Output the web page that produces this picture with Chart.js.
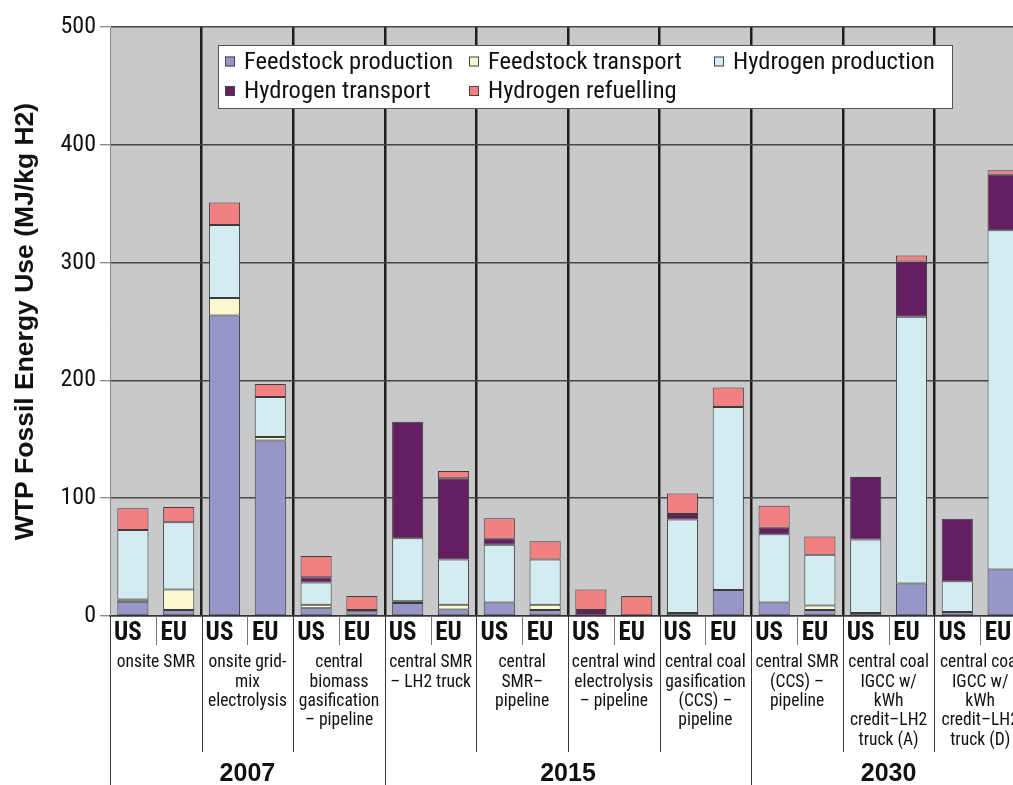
<!DOCTYPE html>
<html>
<head>
<meta charset="utf-8">
<script src="https://cdn.jsdelivr.net/npm/chart.js@4.4.1/dist/chart.umd.min.js"></script>
<style>
  html, body { margin: 0; padding: 0; background: #ffffff; overflow: hidden; }
  #wrap { width: 1013px; height: 785px; overflow: hidden; position: relative; }
  #box { width: 1030px; height: 785px; position: absolute; left: 0; top: 0; }
</style>
</head>
<body>
<div id="wrap"><div id="box"><canvas id="c" width="1030" height="785"></canvas></div></div>
<script>
// ---- data ----
const regions = ['US','EU','US','EU','US','EU','US','EU','US','EU','US','EU','US','EU','US','EU','US','EU','US','EU'];
const pathways = [
  ['onsite SMR'],
  ['onsite grid-', 'mix', 'electrolysis'],
  ['central', 'biomass', 'gasification', '\u2013 pipeline'],
  ['central SMR', '\u2013 LH2 truck'],
  ['central', 'SMR\u2013', 'pipeline'],
  ['central wind', 'electrolysis', '\u2013 pipeline'],
  ['central coal', 'gasification', '(CCS) \u2013', 'pipeline'],
  ['central SMR', '(CCS) \u2013', 'pipeline'],
  ['central coal', 'IGCC w/', 'kWh', 'credit\u2013LH2', 'truck (A)'],
  ['central coal', 'IGCC w/', 'kWh', 'credit\u2013LH2', 'truck (D)']
];
const years = ['2007', '2015', '2030'];
const yearGroupCounts = [3, 4, 3];

const feedstockProduction = [12, 5, 255, 149, 6.5, 4, 11, 5.5, 11.5, 5, 0.5, 0, 2.5, 22, 11.5, 5, 2.5, 27.5, 3.5, 39.5];
const feedstockTransport  = [2, 17.5, 15, 3, 3, 0, 1.5, 4, 0, 4.5, 0, 0, 0, 0, 0, 4, 0, 0, 0, 0];
const hydrogenProduction  = [59, 57, 62, 34, 19, 0, 53.5, 38.5, 49, 38.5, 0, 0, 79.5, 155.5, 58, 43, 62.5, 226.5, 26, 288];
const hydrogenTransport   = [0, 0, 0, 0, 4.5, 1, 99, 69, 5, 0, 4.5, 0, 4.5, 0, 5.5, 0, 53, 47, 53, 47];
const hydrogenRefuelling  = [18.5, 13, 19, 11, 18, 12, 0, 6, 17.5, 15.5, 17.5, 17, 17.5, 16.5, 18.5, 15.5, 0, 5, 0, 4];

const yTicks = [0, 100, 200, 300, 400, 500];
const yTitle = 'WTP Fossil Energy Use (MJ/kg H2)';

const seriesNames = ['Feedstock production', 'Feedstock transport', 'Hydrogen production', 'Hydrogen transport', 'Hydrogen refuelling'];
const seriesColors = ['#9696C9', '#FBF8D0', '#D3ECF2', '#641E61', '#F38080'];
const seriesValues = [feedstockProduction, feedstockTransport, hydrogenProduction, hydrogenTransport, hydrogenRefuelling];

const NARROW = "'Liberation Sans Narrow', 'Arial Narrow', 'Roboto Condensed', 'Liberation Sans', sans-serif";
const SANS = "'Liberation Sans', Arial, sans-serif";

// ---- plugins ----
const plotBg = {
  id: 'plotBg',
  beforeDraw(chart) {
    const {ctx, chartArea: a} = chart;
    ctx.save();
    ctx.fillStyle = '#C8C9CB';
    ctx.fillRect(a.left, a.top, a.right - a.left, a.bottom - a.top);
    ctx.restore();
  }
};

const axisDecor = {
  id: 'axisDecor',
  afterDraw(chart) {
    const {ctx, chartArea: a} = chart;
    const x = chart.scales.x;
    const H = chart.height;
    const pix = i => x.getPixelForValue(i);
    const edge = i => (i <= 0) ? a.left : (i >= regions.length ? a.right : (pix(i - 1) + pix(i)) / 2);
    ctx.save();
    ctx.lineWidth = 1;
    // US/EU separators
    for (let g = 0; g < pathways.length; g++) {
      const xx = Math.round(edge(2 * g + 1)) + 0.5;
      ctx.strokeStyle = '#777';
      ctx.beginPath(); ctx.moveTo(xx, a.bottom); ctx.lineTo(xx, a.bottom + 29); ctx.stroke();
    }
    // group / year separators
    const yearEdges = [0];
    let acc = 0;
    yearGroupCounts.forEach(n => { acc += n; yearEdges.push(acc); });
    ctx.strokeStyle = '#3a3a3a';
    for (let g = 0; g <= pathways.length; g++) {
      const xx = Math.round(edge(2 * g)) + 0.5;
      const isYear = yearEdges.includes(g);
      ctx.beginPath(); ctx.moveTo(xx, a.bottom); ctx.lineTo(xx, isYear ? H : a.bottom + 136); ctx.stroke();
    }
    // pathway names
    ctx.fillStyle = '#111';
    ctx.font = '17.5px ' + NARROW;
    ctx.textAlign = 'center';
    ctx.textBaseline = 'middle';
    pathways.forEach((lines, g) => {
      const cx = (edge(2 * g) + edge(2 * g + 2)) / 2;
      lines.forEach((t, k) => ctx.fillText(t, cx, a.bottom + 47 + k * 19.3));
    });
    // years
    ctx.font = 'bold 25px ' + SANS;
    years.forEach((t, k) => {
      const cx = (edge(2 * yearEdges[k]) + edge(2 * yearEdges[k + 1])) / 2;
      ctx.fillText(t, cx, H - 11);
    });
    ctx.restore();
  }
};

const boxLegend = {
  id: 'boxLegend',
  afterDraw(chart) {
    const {ctx} = chart;
    const bx = 218, by = 45, bw = 734, bh = 63;
    ctx.save();
    ctx.fillStyle = '#ffffff';
    ctx.fillRect(bx, by, bw, bh);
    ctx.strokeStyle = '#555';
    ctx.lineWidth = 1;
    ctx.strokeRect(bx + 0.5, by + 0.5, bw, bh);
    const cols = [225, 469, 714];
    const rows = [61.5, 91];
    ctx.font = '24.5px ' + NARROW;
    ctx.textBaseline = 'middle';
    ctx.textAlign = 'left';
    chart.data.datasets.forEach((ds, i) => {
      const cx = cols[i % 3], cy = rows[Math.floor(i / 3)];
      ctx.fillStyle = ds.backgroundColor;
      ctx.fillRect(cx, cy - 5, 10, 10);
      ctx.strokeStyle = '#444';
      ctx.strokeRect(cx + 0.5, cy - 4.5, 9, 9);
      ctx.fillStyle = '#111';
      ctx.fillText(ds.label, cx + 19, cy + 1);
    });
    ctx.restore();
  }
};

new Chart(document.getElementById('c'), {
  type: 'bar',
  data: {
    labels: regions,
    datasets: seriesNames.map((name, i) => ({
      label: name,
      data: seriesValues[i],
      backgroundColor: seriesColors[i],
      borderColor: '#3c3c3c',
      borderWidth: 1,
      borderSkipped: false,
      barPercentage: 0.68,
      categoryPercentage: 1.0
    }))
  },
  options: {
    responsive: false,
    animation: false,
    devicePixelRatio: 1,
    layout: { padding: { top: 27, right: 4, left: 0, bottom: 0 } },
    plugins: { legend: { display: false }, tooltip: { enabled: false } },
    scales: {
      x: {
        stacked: true,
        offset: true,
        grid: {
          offset: true,
          drawTicks: false,
          color: c => (c.index > 0 && c.index % 2 === 0) ? '#1e1e1e' : 'rgba(0,0,0,0)',
          lineWidth: 2.5
        },
        border: { display: true, color: '#333', width: 1.5 },
        ticks: {
          autoSkip: false, maxRotation: 0, minRotation: 0,
          padding: 3, labelOffset: -5,
          color: '#111',
          font: { family: NARROW, weight: 'bold', size: 25 }
        },
        afterFit: s => { s.height = 169; }
      },
      y: {
        stacked: true,
        min: 0, max: 500,
        afterBuildTicks: s => { s.ticks = yTicks.map(v => ({ value: v })); },
        ticks: { color: '#111', padding: 4, font: { family: NARROW, size: 24 } },
        grid: { color: '#474747', lineWidth: 1.5, tickLength: 10, tickColor: '#666', tickWidth: 1 },
        border: { display: true, color: '#888', width: 1 },
        title: {
          display: true, text: yTitle, color: '#111',
          font: { family: SANS, weight: 'bold', size: 26.5 },
          padding: { top: 10, bottom: 0 }
        },
        afterFit: s => { s.width = 110; }
      }
    }
  },
  plugins: [plotBg, axisDecor, boxLegend]
});
</script>
</body>
</html>
